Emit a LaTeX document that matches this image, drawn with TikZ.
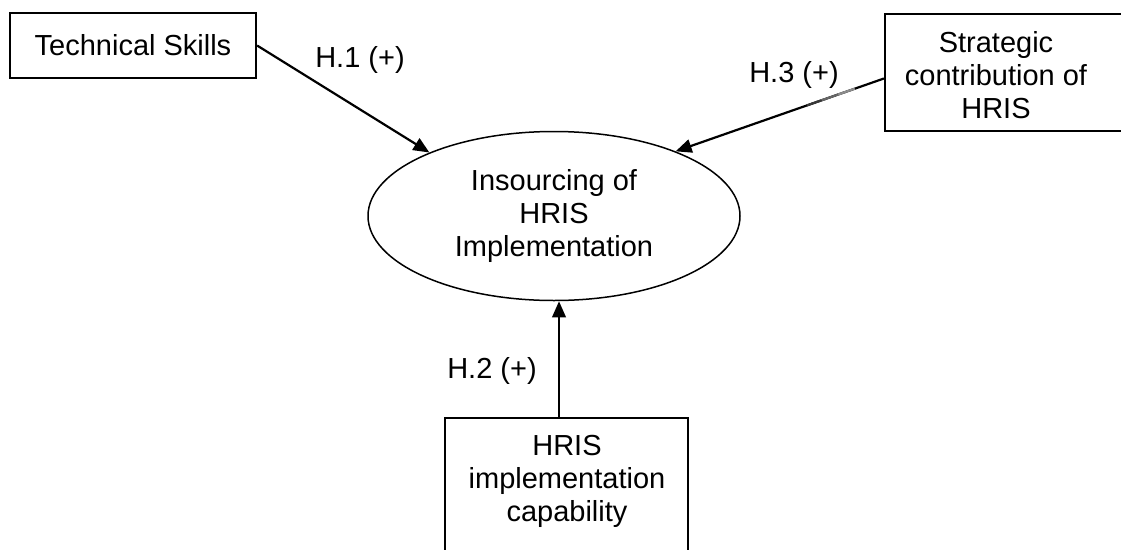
\documentclass[tikz,border=0pt]{standalone}
\usepackage{fontspec}
\setmainfont{Liberation Sans}
\usetikzlibrary{arrows.meta,shapes.geometric,calc}
\begin{document}
\begin{tikzpicture}[x=1pt,y=-1pt,
  every node/.style={font=\fontsize{29}{33}\selectfont, inner sep=0pt},
  box/.style={draw, line width=2.2pt, rectangle},
  conn/.style={draw, line width=2.2pt, -{Triangle[length=16pt,width=13.5pt]}},
  fade/.style={line width=2.2pt, line cap=butt}]
\clip (0,0) rectangle (1121,549);

% constructs
\node[box, minimum width=246pt, minimum height=65pt] (ts) at (133,45.5) {Technical Skills};
\node[box, minimum width=245pt, minimum height=117pt] (sc) at (1007.5,72.5) {};
\node[align=center] (sct) at (996,75) {Strategic\\contribution of\\HRIS};
\node[box, minimum width=243pt, minimum height=150pt] (hc) at (566.5,493) {};
\node[align=center] (hct) at (567,481) {HRIS\\implementation\\capability};
\node[draw, ellipse, line width=1.5pt, minimum width=372pt, minimum height=169pt,
      align=center] (ell) at (554,216) {Insourcing of\\HRIS\\Implementation};

% hypothesised paths
\draw[conn] (ts.east) -- (ell.153);
\coordinate (s3) at ([yshift=-6pt]sc.west);
\draw[conn] (s3) -- (ell.28);
\draw[conn] ([xshift=-7.5pt]hc.north) -- ([xshift=-7.5pt]hc.north |- ell.south);

% lighter stretch along the H.3 path
\draw[fade, black!45] ($(s3)!0.14!(ell.28)$) -- ($(s3)!0.22!(ell.28)$);
\draw[fade, black!60] ($(s3)!0.22!(ell.28)$) -- ($(s3)!0.30!(ell.28)$);
\draw[fade, black!78] ($(s3)!0.30!(ell.28)$) -- ($(s3)!0.37!(ell.28)$);

% path labels
\node (h1) at (360,60) {H.1 (+)};
\node (h3) at (794,75) {H.3 (+)};
\node (h2) at (492,371) {H.2 (+)};
\end{tikzpicture}
\end{document}
